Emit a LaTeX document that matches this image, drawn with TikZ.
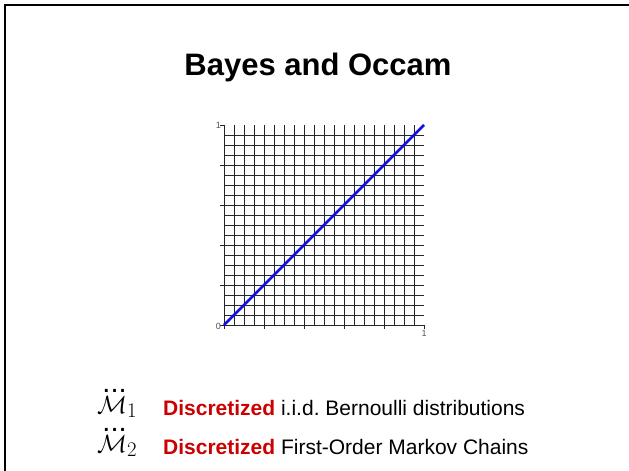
\documentclass[tikz,border=0pt]{standalone}
\usepackage{amsmath,amssymb}
\usepackage{fontspec}
\setmainfont{Liberation Sans}
\usetikzlibrary{positioning}
\definecolor{SlideRed}{HTML}{CC0000}
\definecolor{LineBlue}{HTML}{1010E0}
\definecolor{TickGray}{HTML}{555555}
\tikzset{
  titletext/.style={font=\fontsize{31}{36}\selectfont\bfseries,anchor=base,inner sep=0pt},
  itemtext/.style={font=\fontsize{21}{24}\selectfont,anchor=base west,inner sep=0pt},
  modeltext/.style={font=\fontsize{29}{32}\selectfont,anchor=base west,inner sep=0pt},
  ticklabel/.style={font=\fontsize{9}{10}\selectfont,text=TickGray,inner sep=1pt},
  gridline/.style={draw=black!85,line width=0.8pt}
}
\frenchspacing

\begin{document}
\begin{tikzpicture}[x=1pt,y=1pt]
  \useasboundingbox (0,0) rectangle (629,-471);
  % slide frame
  \draw[line width=2pt] (5,-471) -- (5,-5) -- (629,-5);

  \node[titletext] (title) at (318,-75) {Bayes and Occam};

  % the unit square
  \begin{scope}[shift={(224,-325)},x=200pt,y=200pt]
    \draw[gridline,step=0.05] (0,0) grid (1,1);
    \draw[gridline] (0,0) -- (0,1) (0,0) -- (1,0);
    \draw[gridline] (0,0) -- (-0.02,0) (0,0.2) -- (-0.02,0.2) (0,0.4) -- (-0.02,0.4)
      (0,0.6) -- (-0.02,0.6) (0,0.8) -- (-0.02,0.8) (0,1) -- (-0.02,1);
    \draw[gridline] (0,0) -- (0,-0.02) (0.2,0) -- (0.2,-0.02) (0.4,0) -- (0.4,-0.02)
      (0.6,0) -- (0.6,-0.02) (0.8,0) -- (0.8,-0.02) (1,0) -- (1,-0.02);
    \coordinate (origin) at (0,0);
    \coordinate (corner) at (1,1);
    \node[ticklabel,anchor=east] (ylow) at (-0.01,-0.005) {0};
    \node[ticklabel,anchor=east] (yhigh) at (-0.01,1) {1};
    \node[ticklabel,anchor=north] (xhigh) at (1,-0.02) {1};
  \end{scope}
  \draw[LineBlue,line width=2.6pt] (origin) -- (corner);

  % models
  \node[modeltext] (m1) at (97,-413) {$\dddot{\mathcal{M}}_1$};
  \node[itemtext] (d1) at (163,-415) {\textbf{\color{SlideRed}Discretized} i.i.d. Bernoulli distributions};
  \node[modeltext] (m2) at (97,-452) {$\dddot{\mathcal{M}}_2$};
  \node[itemtext] (d2) at (163,-454) {\textbf{\color{SlideRed}Discretized} First-Order Markov Chains};
\end{tikzpicture}
\end{document}
